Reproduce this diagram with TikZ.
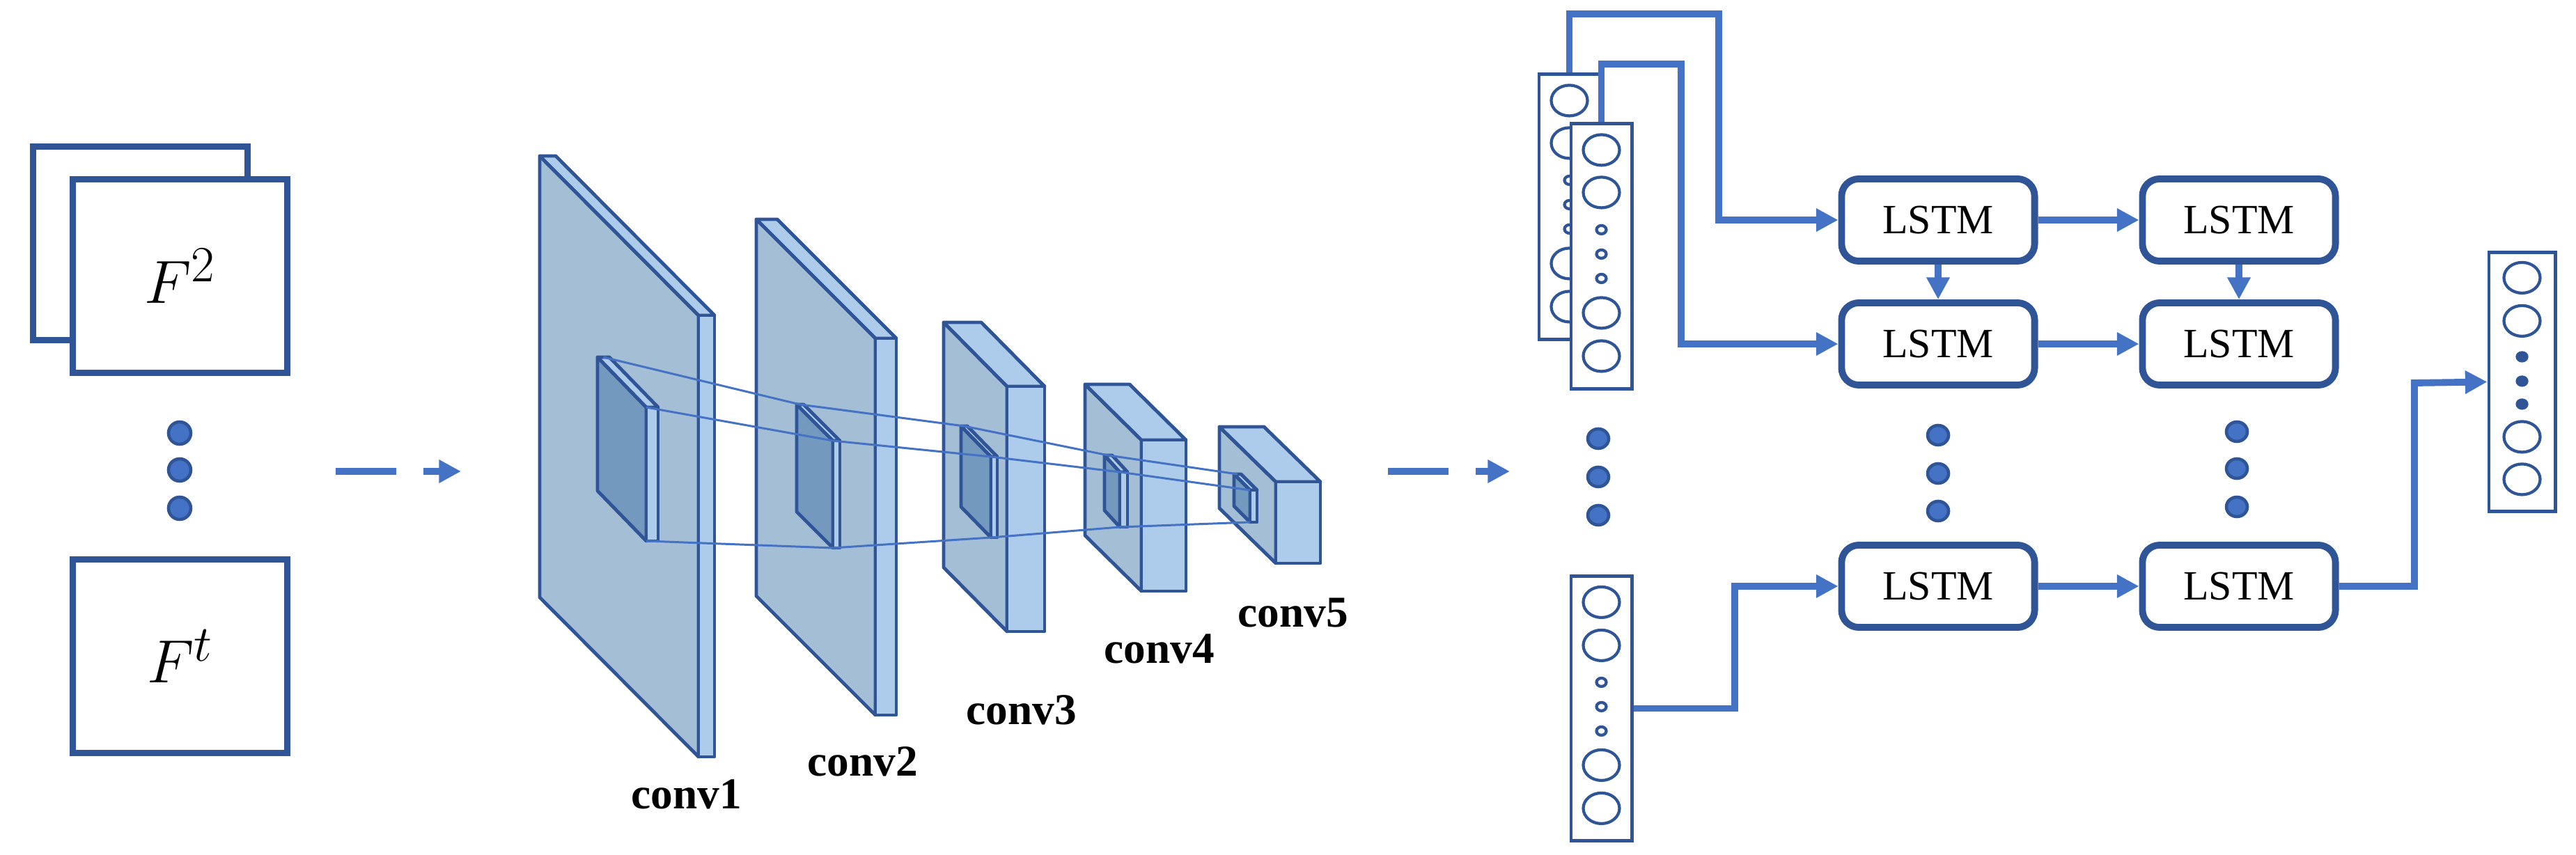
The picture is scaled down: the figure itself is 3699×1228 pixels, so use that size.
\documentclass[tikz,border=0pt]{standalone}
\usepackage{fontspec}
\setmainfont{Liberation Serif}
\usepackage{tikz}
\usetikzlibrary{arrows.meta,calc}

\definecolor{dkblue}{HTML}{2F5597}
\definecolor{ltblue}{HTML}{4472C4}
\definecolor{facecol}{HTML}{A4BED6}
\definecolor{sidecol}{HTML}{ADCBEA}
\definecolor{kerncol}{HTML}{7399BF}

\tikzset{
  frame/.style={draw=dkblue, line width=2.7pt, fill=white, minimum width=3.08cm, minimum height=2.78cm, inner sep=0pt},
  lstm/.style={draw=dkblue, line width=2.8pt, rounded corners=7pt, minimum width=2.77cm, minimum height=1.18cm, inner sep=0pt, font=\fontsize{17}{20}\selectfont},
  vecbox/.style={draw=dkblue, line width=1.4pt, fill=white, minimum width=0.87cm, minimum height=3.8cm, inner sep=0pt},
  unit/.style={draw=dkblue, line width=1.2pt},
  dot/.style={draw=dkblue, line width=1.3pt, fill=ltblue},
  feed/.style={draw=ltblue, line width=2.8pt, -{Triangle[length=9pt,width=9pt]}},
  link/.style={draw=ltblue, line width=0.85pt},
  slabline/.style={draw=dkblue, line width=1.4pt, line join=round},
  convlabel/.style={font=\bfseries\fontsize{18}{21}\selectfont},
  framelabel/.style={font=\fontsize{30}{34}\selectfont},
}

% slab: #1 left, #2 face width, #3 thickness, #4 top, #5 drop, #6 height, #7 face fill, #8 name
\newcommand{\slab}[8]{
\draw[slabline, fill=#7] (#1,#4) -- ({#1+#2},{#4+#5}) -- ({#1+#2},{#4+#5+#6}) -- (#1,{#4+#6}) -- cycle;
\draw[slabline, fill=sidecol] (#1,#4) -- ({#1+#3},#4) -- ({#1+#2+#3},{#4+#5}) -- ({#1+#2},{#4+#5}) -- cycle;
\draw[slabline, fill=sidecol] ({#1+#2},{#4+#5}) rectangle ({#1+#2+#3},{#4+#5+#6});
\coordinate (#8-a) at ({#1+#3/2},#4);
\coordinate (#8-b) at ({#1+#2},{#4+#5});
\coordinate (#8-c) at ({#1+#2},{#4+#5+#6});
}

% units of a vector box: #1 node name, #2 big offsets, #3 small offsets, #4 small fill
\newcommand{\units}[4]{
\foreach \dy in {#2}
  \draw[unit] ($(#1.north)+(0,\dy)$) ellipse [x radius=0.26cm, y radius=0.22cm];
\foreach \dy in {#3}
  \draw[unit, fill=#4] ($(#1.north)+(0,\dy)$) ellipse [x radius=0.07cm, y radius=0.06cm];
}

\begin{document}
\begin{tikzpicture}[x=0.01cm, y=-0.01cm]
\useasboundingbox (0,0) rectangle (3699,1228);

% input frames
\node[frame] (fb) at (201.5,349.5) {};
\node[frame, framelabel] (f2) at (258.5,396.5) {$F^2$};
\node[frame, framelabel] (ft) at (258.5,942.5) {$F^t$};
\foreach \y in {622,675,730}
  \draw[dot] (258,\y) circle (0.16cm);

\coordinate (d1a) at (482,677);
\coordinate (d1b) at (662,677);
\draw[ltblue, line width=3pt, dash pattern=on 24.8pt off 11pt, -{Triangle[length=9pt,width=9pt]}] (d1a) -- (d1b);

% convolution layers
\slab{775}{228}{23}{224}{229}{634}{facecol}{c1}
\slab{1086}{171}{30}{315}{171}{541}{facecol}{c2}
\slab{1355}{91}{54}{463}{92}{352}{facecol}{c3}
\slab{1558}{81}{64}{552}{80}{217}{facecol}{c4}
\slab{1751}{81}{64}{613}{79}{117}{facecol}{c5}

\slab{858}{70}{17}{513}{72}{192}{kerncol}{k1}
\slab{1144}{52}{10}{581}{52}{154}{kerncol}{k2}
\slab{1380}{43}{9}{612}{44}{116}{kerncol}{k3}
\slab{1586}{22}{11}{654}{24}{79}{kerncol}{k4}
\slab{1772}{23}{10}{681}{23}{46}{kerncol}{k5}

\draw[link] (k1-a) -- (k2-a) -- (k3-a) -- (k4-a) -- (k5-a);
\draw[link] (k1-b) -- (k2-b) -- (k3-b) -- (k4-b) -- (k5-b);
\draw[link] (k1-c) -- (k2-c) -- (k3-c) -- (k4-c) -- (k5-c);

\node[convlabel] at (986,1141) {conv1};
\node[convlabel] at (1239,1094) {conv2};
\node[convlabel] at (1467,1020) {conv3};
\node[convlabel] at (1665,932) {conv4};
\node[convlabel] at (1857,880) {conv5};

\coordinate (d2a) at (1993,677);
\coordinate (d2b) at (2168,677);
\draw[ltblue, line width=3pt, dash pattern=on 24.8pt off 11pt, -{Triangle[length=9pt,width=9pt]}] (d2a) -- (d2b);

% feature vectors
\node[vecbox] (vb) at (2253.5,297) {};
\units{vb}{40,101,274,336}{154.5,189.5,224.5}{white}
\node[vecbox] (vf) at (2299.5,368) {};
\units{vf}{40,101,274,336}{154.5,189.5,224.5}{white}
\foreach \y in {630,685,740}
  \draw[dot] (2295,\y) ellipse [x radius=0.15cm, y radius=0.14cm];
\node[vecbox] (vl) at (2299.5,1017.5) {};
\units{vl}{40,102,274,336}{155,190,225}{white}

% LSTM grid
\node[lstm] (l11) at (2783,316) {LSTM};
\node[lstm] (l12) at (3215,316) {LSTM};
\node[lstm] (l21) at (2783,494) {LSTM};
\node[lstm] (l22) at (3215,494) {LSTM};
\node[lstm] (l31) at (2783,842) {LSTM};
\node[lstm] (l32) at (3215,842) {LSTM};
\foreach \y in {625,680,734}
  \draw[dot] (2783,\y) ellipse [x radius=0.15cm, y radius=0.14cm];
\foreach \y in {620,673,728}
  \draw[dot] (3212,\y) ellipse [x radius=0.15cm, y radius=0.14cm];

\draw[feed] (l11) -- (l12);
\draw[feed] (l21) -- (l22);
\draw[feed] (l31) -- (l32);
\draw[feed] (l11) -- (l21);
\draw[feed] (l12) -- (l22);

% output vector
\node[vecbox, minimum width=0.95cm, minimum height=3.72cm] (vo) at (3621.5,548.5) {};
\units{vo}{39,101,267.5,328.5}{152.5,187.5,220.5}{dkblue}

% feeding connectors
\coordinate (t1) at (2468,20);
\coordinate (t2) at (2414,92);
\coordinate (t3) at (2491,842);
\coordinate (t4) at (3467,550);
\draw[feed] (vb.north) |- (t1) |- (l11.west);
\draw[feed] (vf.north) |- (t2) |- (l21.west);
\draw[feed] (vl.east) -| (t3) -- (l31.west);
\draw[feed] (l32.east) -| (t4) -- (vo.west);
\end{tikzpicture}
\end{document}
